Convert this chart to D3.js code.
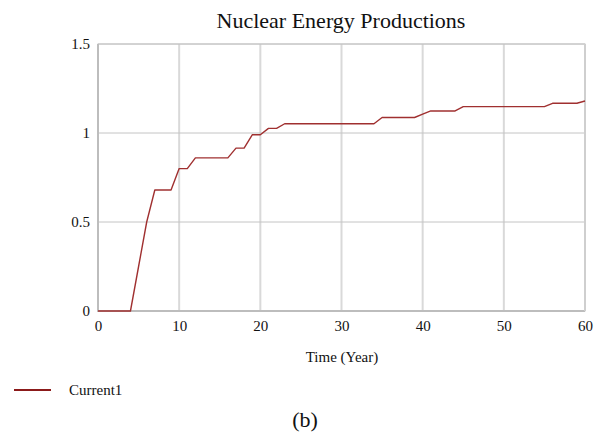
<!DOCTYPE html>
<html>
<head>
<meta charset="utf-8">
<script src="https://cdn.jsdelivr.net/npm/d3@7"></script>
<style>
  html, body { margin: 0; padding: 0; background: #fff; }
  svg { display: block; }
  text { font-family: "Liberation Serif", "Times New Roman", serif; fill: #111; }
</style>
</head>
<body>
<svg id="chart" width="609" height="432"></svg>
<script>
// ---- data ----
const years = d3.range(0, 61);
const current1 = [
  0, 0, 0, 0, 0,                 // 0-4
  0.25, 0.5, 0.68, 0.68, 0.68,   // 5-9
  0.80, 0.80, 0.86, 0.86, 0.86,  // 10-14
  0.86, 0.86, 0.915, 0.915, 0.99,// 15-19
  0.99, 1.026, 1.026, 1.052, 1.052, // 20-24
  1.052, 1.052, 1.052, 1.052, 1.052, // 25-29
  1.052, 1.052, 1.052, 1.052, 1.052, // 30-34
  1.087, 1.087, 1.087, 1.087, 1.087, // 35-39
  1.106, 1.124, 1.124, 1.124, 1.124, // 40-44
  1.148, 1.148, 1.148, 1.148, 1.148, // 45-49
  1.148, 1.148, 1.148, 1.148, 1.148, // 50-54
  1.148, 1.167, 1.167, 1.167, 1.167, // 55-59
  1.18                               // 60
];
const xTicks = [0, 10, 20, 30, 40, 50, 60];
const yTicks = [0, 0.5, 1, 1.5];
const yTickLabels = ["0", "0.5", "1", "1.5"];
const title = "Nuclear Energy Productions";
const xLabel = "Time (Year)";
const seriesName = "Current1";
const caption = "(b)";

// ---- layout ----
const svg = d3.select("#chart");
const L = 98, R = 585, T = 44, B = 311;
const x = d3.scaleLinear().domain([0, 60]).range([L, R]);
const y = d3.scaleLinear().domain([0, 1.5]).range([B, T]);
const lineColor = "#a03030";

// grid: vertical
svg.append("g").selectAll("line").data(xTicks).join("line")
  .attr("x1", d => x(d)).attr("x2", d => x(d))
  .attr("y1", T).attr("y2", B)
  .attr("stroke", "#d9d9d9").attr("stroke-width", 2);
// grid: horizontal
svg.append("g").selectAll("line").data(yTicks).join("line")
  .attr("x1", L).attr("x2", R)
  .attr("y1", d => y(d)).attr("y2", d => y(d))
  .attr("stroke", "#c4c4c4").attr("stroke-width", 1);

// frame
svg.append("rect").attr("x", L).attr("y", T).attr("width", R - L).attr("height", B - T)
  .attr("fill", "none").attr("stroke", "#c4c4c4").attr("stroke-width", 1);
svg.append("line").attr("x1", L).attr("x2", L).attr("y1", T).attr("y2", B + 1)
  .attr("stroke", "#bdbdbd").attr("stroke-width", 2);
svg.append("line").attr("x1", L - 1).attr("x2", R).attr("y1", B).attr("y2", B)
  .attr("stroke", "#bdbdbd").attr("stroke-width", 2);
svg.append("line").attr("x1", R).attr("x2", R).attr("y1", T).attr("y2", B)
  .attr("stroke", "#cfcfcf").attr("stroke-width", 2);

// axes (labels only) via d3 axes
const xAxis = d3.axisBottom(x).tickValues(xTicks).tickFormat(d3.format("d")).tickSize(0).tickPadding(9);
svg.append("g").attr("transform", `translate(0,${B})`).call(xAxis)
  .call(g => g.select(".domain").remove())
  .selectAll("text").attr("font-size", 15).attr("font-family", "Liberation Serif, serif").attr("fill", "#111");

const yAxis = d3.axisLeft(y).tickValues(yTicks).tickFormat((d, i) => yTickLabels[i]).tickSize(0).tickPadding(8);
svg.append("g").attr("transform", `translate(${L},0)`).call(yAxis)
  .call(g => g.select(".domain").remove())
  .selectAll("text").attr("font-size", 15).attr("font-family", "Liberation Serif, serif").attr("fill", "#111");

// line
const line = d3.line().x((d, i) => x(years[i])).y(d => y(d));
svg.append("path").datum(current1)
  .attr("d", line).attr("fill", "none")
  .attr("stroke", lineColor).attr("stroke-width", 1.4).attr("stroke-linejoin", "round");

// title
svg.append("text").attr("x", 341).attr("y", 28).attr("text-anchor", "middle")
  .attr("font-size", 22).text(title);

// x label
svg.append("text").attr("x", 342).attr("y", 362).attr("text-anchor", "middle")
  .attr("font-size", 15).text(xLabel);

// legend
svg.append("line").attr("x1", 14).attr("x2", 51).attr("y1", 390).attr("y2", 390)
  .attr("stroke", "#8b1a1a").attr("stroke-width", 2);
svg.append("text").attr("x", 69).attr("y", 395).attr("font-size", 15).text(seriesName);

// caption
svg.append("text").attr("x", 305).attr("y", 427).attr("text-anchor", "middle")
  .attr("font-size", 22).text(caption);
</script>
</body>
</html>
